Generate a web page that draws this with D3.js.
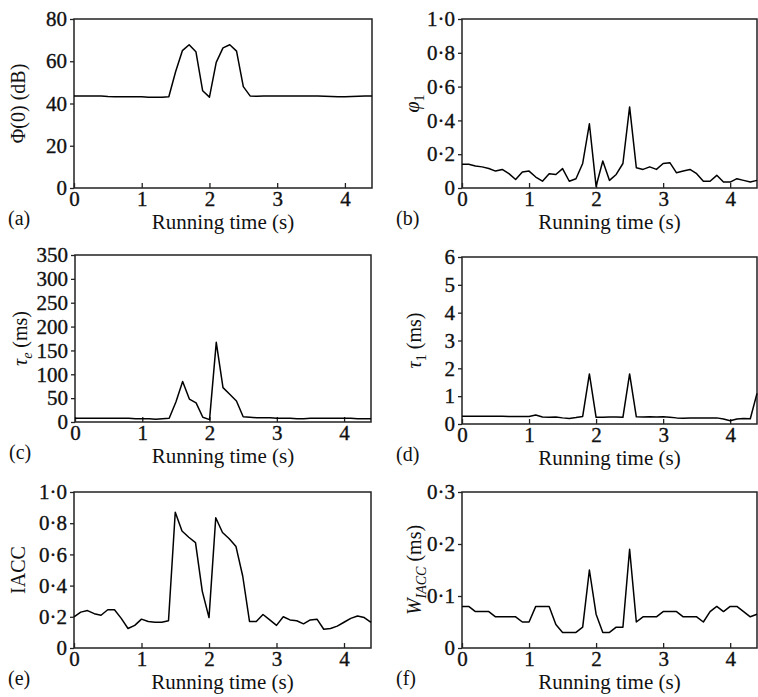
<!DOCTYPE html>
<html>
<head>
<meta charset="utf-8">
<script src="https://cdn.jsdelivr.net/npm/d3@7"></script>
<style>
  body { margin: 0; background: #fff; }
  text { font-family: "Liberation Serif", "Times New Roman", serif; fill: #111; }
</style>
</head>
<body>
<svg id="chart" width="758" height="697"></svg>
<script>
// running time (s), one sample every 0.1 s
var times = [0, 0.1, 0.2, 0.3, 0.4, 0.5, 0.6, 0.7, 0.8, 0.9,
             1, 1.1, 1.2, 1.3, 1.4, 1.5, 1.6, 1.7, 1.8, 1.9,
             2, 2.1, 2.2, 2.3, 2.4, 2.5, 2.6, 2.7, 2.8, 2.9,
             3, 3.1, 3.2, 3.3, 3.4, 3.5, 3.6, 3.7, 3.8, 3.9,
             4, 4.1, 4.2, 4.3, 4.4];

// (a) Phi(0) in dB
var phi0 = [43.5, 43.5, 43.5, 43.5, 43.5, 43.3, 43.2, 43.2, 43.2, 43.2,
            43.2, 43.0, 43.0, 43.0, 43.2, 55, 65, 67.8, 64.5, 46,
            43, 59.5, 66.3, 67.8, 64.8, 48, 43.6, 43.4, 43.5, 43.5,
            43.6, 43.6, 43.6, 43.5, 43.5, 43.5, 43.5, 43.4, 43.3, 43.2,
            43.2, 43.3, 43.4, 43.5, 43.5];

// (b) phi1
var phi1 = [0.14, 0.14, 0.13, 0.125, 0.115, 0.10, 0.11, 0.085, 0.05, 0.095,
            0.10, 0.065, 0.04, 0.085, 0.08, 0.115, 0.04, 0.055, 0.145, 0.38,
            0.01, 0.16, 0.045, 0.08, 0.145, 0.48, 0.12, 0.11, 0.125, 0.11,
            0.145, 0.15, 0.09, 0.10, 0.11, 0.085, 0.04, 0.04, 0.075, 0.035,
            0.035, 0.055, 0.045, 0.035, 0.045];

// (c) tau_e in ms
var tauE = [8, 8, 8, 8, 8, 8, 8, 8, 8, 7,
            7, 7, 6, 7, 8, 42, 85, 48, 40, 10,
            5, 167, 72, 58, 44, 11, 10, 9, 9, 9,
            8, 8, 8, 7, 7, 8, 8, 8, 8, 8,
            8, 8, 7, 7, 7];

// (d) tau_1 in ms
var tau1 = [0.28, 0.28, 0.28, 0.28, 0.28, 0.28, 0.28, 0.27, 0.27, 0.27,
            0.27, 0.32, 0.25, 0.24, 0.25, 0.22, 0.20, 0.23, 0.27, 1.8,
            0.24, 0.24, 0.25, 0.25, 0.24, 1.8, 0.26, 0.25, 0.26, 0.25,
            0.26, 0.24, 0.22, 0.21, 0.22, 0.22, 0.22, 0.22, 0.22, 0.18,
            0.12, 0.18, 0.20, 0.19, 1.1];

// (e) IACC
var iacc = [0.20, 0.23, 0.24, 0.22, 0.21, 0.245, 0.245, 0.19, 0.125, 0.145,
            0.185, 0.17, 0.165, 0.165, 0.175, 0.87, 0.75, 0.71, 0.675, 0.365,
            0.195, 0.835, 0.74, 0.70, 0.65, 0.46, 0.17, 0.17, 0.215, 0.18,
            0.145, 0.20, 0.18, 0.175, 0.155, 0.18, 0.185, 0.12, 0.125, 0.14,
            0.165, 0.19, 0.205, 0.195, 0.165];

// (f) W_IACC in ms
var wIacc = [0.08, 0.08, 0.07, 0.07, 0.07, 0.06, 0.06, 0.06, 0.06, 0.05,
             0.05, 0.08, 0.08, 0.08, 0.045, 0.03, 0.03, 0.03, 0.04, 0.15,
             0.065, 0.03, 0.03, 0.04, 0.04, 0.19, 0.05, 0.06, 0.06, 0.06,
             0.07, 0.07, 0.07, 0.06, 0.06, 0.06, 0.05, 0.07, 0.08, 0.07,
             0.08, 0.08, 0.07, 0.06, 0.065];

var xTicks = [0, 1, 2, 3, 4];

var svg = d3.select("#chart");

function dotFmt(d) {
  return d === 0 ? "0" : d3.format(".1f")(d).replace(".", "\u00b7");
}

// label parts: [text, italic, subscript]
var panels = [
  { tag: "(a)", values: phi0, yMax: 80, yTicks: [0, 20, 40, 60, 80], fmt: d3.format("d"),
    box: { l: 74, r: 372, t: 19, b: 188 }, labelX: 18,
    label: [["\u03a6(0) (dB)", false, false]] },
  { tag: "(b)", values: phi1, yMax: 1, yTicks: [0, 0.2, 0.4, 0.6, 0.8, 1], fmt: dotFmt,
    box: { l: 462, r: 757, t: 19, b: 188 }, labelX: 412,
    label: [["\u03c6", true, false], ["1", false, true]] },
  { tag: "(c)", values: tauE, yMax: 350, yTicks: [0, 50, 100, 150, 200, 250, 300, 350], fmt: d3.format("d"),
    box: { l: 75, r: 371, t: 255, b: 422 }, labelX: 20,
    label: [["\u03c4", true, false], ["e", true, true], [" (ms)", false, false]] },
  { tag: "(d)", values: tau1, yMax: 6, yTicks: [0, 1, 2, 3, 4, 5, 6], fmt: d3.format("d"),
    box: { l: 462, r: 757, t: 257, b: 424 }, labelX: 414,
    label: [["\u03c4", true, false], ["1", false, true], [" (ms)", false, false]] },
  { tag: "(e)", values: iacc, yMax: 1, yTicks: [0, 0.2, 0.4, 0.6, 0.8, 1], fmt: dotFmt,
    box: { l: 74, r: 371, t: 492, b: 648 }, labelX: 18,
    label: [["IACC", false, false]] },
  { tag: "(f)", values: wIacc, yMax: 0.3, yTicks: [0, 0.1, 0.2, 0.3], fmt: dotFmt,
    box: { l: 462, r: 757, t: 492, b: 648 }, labelX: 414,
    label: [["W", true, false], ["IACC", true, true], [" (ms)", false, false]] }
];

panels.forEach(function(p) {
  var bx = p.box;
  var x = d3.scaleLinear().domain([0, 4.4]).range([bx.l, bx.r]);
  var y = d3.scaleLinear().domain([0, p.yMax]).range([bx.b, bx.t]);
  var g = svg.append("g");

  // frame
  g.append("rect")
    .attr("x", bx.l).attr("y", bx.t)
    .attr("width", bx.r - bx.l).attr("height", bx.b - bx.t)
    .attr("fill", "none").attr("stroke", "#222").attr("stroke-width", 1.5);

  // x axis: ticks point inward
  var xa = g.append("g").attr("transform", "translate(0," + bx.b + ")")
    .call(d3.axisBottom(x).tickValues(xTicks).tickSize(-5).tickPadding(3).tickFormat(d3.format("d")));
  xa.select(".domain").remove();
  xa.selectAll("line").attr("stroke", "#222").attr("stroke-width", 1.3);
  xa.selectAll("text").attr("font-size", 21).attr("fill", "#111")
    .attr("stroke", "#111").attr("stroke-width", 0.35)
    .style("font-family", "'Liberation Serif', serif");

  // y axis: ticks point outward
  var ya = g.append("g").attr("transform", "translate(" + bx.l + ",0)")
    .call(d3.axisLeft(y).tickValues(p.yTicks).tickSize(4).tickPadding(3).tickFormat(p.fmt));
  ya.select(".domain").remove();
  ya.selectAll("line").attr("stroke", "#222").attr("stroke-width", 1.3);
  ya.selectAll("text").attr("font-size", 21).attr("fill", "#111")
    .attr("stroke", "#111").attr("stroke-width", 0.35)
    .style("font-family", "'Liberation Serif', serif");

  // data line
  var line = d3.line()
    .x(function(d, i) { return x(times[i]); })
    .y(function(d) { return y(d); });
  g.append("path")
    .datum(p.values)
    .attr("d", line)
    .attr("fill", "none")
    .attr("stroke", "#000")
    .attr("stroke-width", 1.5)
    .attr("stroke-linejoin", "round");

  // panel tag and x title
  g.append("text")
    .attr("x", bx.l - 66).attr("y", bx.b + 37)
    .attr("font-size", 20)
    .text(p.tag);
  g.append("text")
    .attr("x", (bx.l + bx.r) / 2).attr("y", bx.b + 41)
    .attr("text-anchor", "middle")
    .attr("font-size", 21)
    .text("Running time (s)");

  // y title, rotated
  var yl = g.append("text")
    .attr("transform", "translate(" + p.labelX + "," + (bx.t + bx.b) / 2 + ") rotate(-90)")
    .attr("text-anchor", "middle")
    .attr("dy", "0.35em")
    .attr("font-size", 20);
  var shifted = false;
  p.label.forEach(function(part) {
    var ts = yl.append("tspan").text(part[0]);
    if (part[1]) ts.attr("font-style", "italic");
    if (part[2]) {
      ts.attr("font-size", 14).attr("dy", 5);
      shifted = true;
    } else if (shifted) {
      ts.attr("dy", -5);
      shifted = false;
    }
  });
});
</script>
</body>
</html>
